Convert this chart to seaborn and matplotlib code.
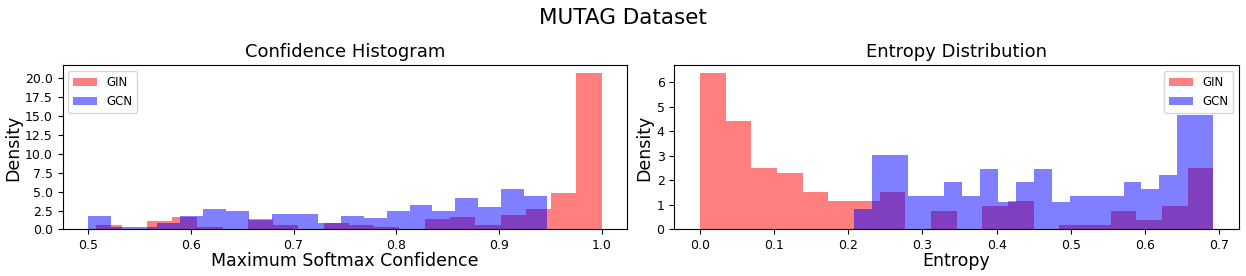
import numpy as np
import pandas as pd
import matplotlib
matplotlib.use("Agg")
import matplotlib.pyplot as plt
from matplotlib.ticker import MultipleLocator
import seaborn as sns

# Histogram counts (150 test graphs), 20 bins per model
models = ["GIN", "GCN"]
colors = ["red", "blue"]

# Maximum softmax confidence
conf_range_gin = (0.5078, 1.0)
conf_counts_gin = [2, 0, 4, 6, 1, 0, 5, 2, 0, 3, 2, 1, 0, 5, 6, 2, 7, 10, 18, 76]
conf_range_gcn = (0.500, 0.947)
conf_counts_gcn = [6, 1, 1, 3, 6, 9, 8, 4, 7, 7, 3, 6, 5, 8, 11, 8, 14, 10, 18, 15]

# Predictive entropy
ent_range_gin = (0.0, 0.692)
ent_counts_gin = [33, 23, 13, 12, 8, 6, 6, 8, 0, 4, 0, 5, 6, 0, 1, 1, 4, 2, 5, 13]
ent_range_gcn = (0.2077, 0.692)
ent_counts_gcn = [3, 11, 11, 5, 5, 7, 5, 9, 4, 7, 9, 4, 5, 5, 5, 7, 6, 8, 17, 17]


def draw_hist(ax, value_range, counts, color, label):
    # one row per bin: bin centre weighted by its count
    edges = np.linspace(value_range[0], value_range[1], len(counts) + 1)
    df = pd.DataFrame({"value": (edges[:-1] + edges[1:]) / 2, "count": counts})
    sns.histplot(data=df, x="value", weights="count", bins=len(counts),
                 binrange=value_range, stat="density", color=color,
                 alpha=0.5, linewidth=0, label=label, ax=ax)


fig, (ax1, ax2) = plt.subplots(1, 2, figsize=(12.46, 2.76), dpi=100)
fig.subplots_adjust(left=0.0502, right=0.9944, bottom=0.1685, top=0.7627, wspace=0.083)

draw_hist(ax1, conf_range_gin, conf_counts_gin, colors[0], models[0])
draw_hist(ax1, conf_range_gcn, conf_counts_gcn, colors[1], models[1])
ax1.set_title("Confidence Histogram", fontsize=13)
ax1.set_xlabel("Maximum Softmax Confidence", fontsize=12.5, labelpad=0)
ax1.set_ylabel("Density", fontsize=12.5, labelpad=2)
ax1.yaxis.set_major_locator(MultipleLocator(2.5))
ax1.legend(loc="upper left", fontsize=8.5)

draw_hist(ax2, ent_range_gin, ent_counts_gin, colors[0], models[0])
draw_hist(ax2, ent_range_gcn, ent_counts_gcn, colors[1], models[1])
ax2.set_title("Entropy Distribution", fontsize=13)
ax2.set_xlabel("Entropy", fontsize=12.5, labelpad=0)
ax2.set_ylabel("Density", fontsize=12.5, labelpad=2)
ax2.yaxis.set_major_locator(MultipleLocator(1))
ax2.legend(loc="upper right", fontsize=8.5)

for ax in (ax1, ax2):
    ax.tick_params(labelsize=9)

fig.suptitle("MUTAG Dataset", fontsize=15.5, y=0.97)
fig.savefig("out.png", dpi=100)
